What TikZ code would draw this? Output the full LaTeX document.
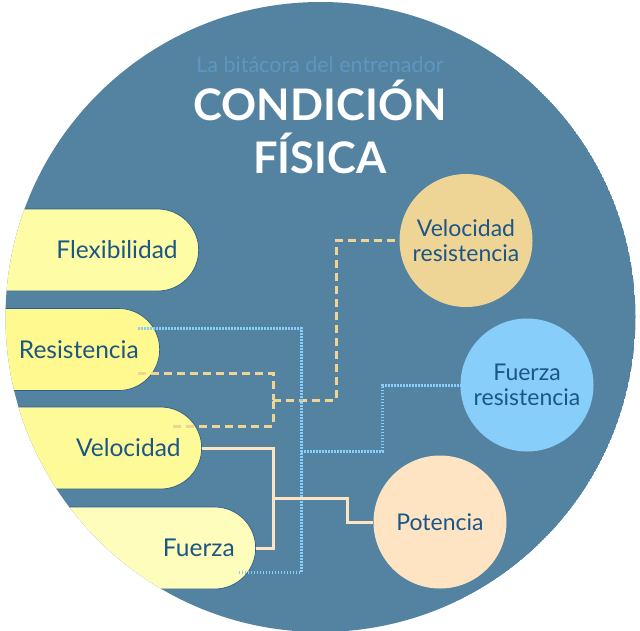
\documentclass[tikz,border=0pt]{standalone}
\usepackage{fontspec}
\setmainfont{Lato}
\usetikzlibrary{calc,positioning}
\definecolor{cBg}   {HTML}{5483A1}
\definecolor{cText} {HTML}{1B5686}
\definecolor{cEdge} {HTML}{2A5E8C}
\definecolor{cSub}  {HTML}{5E96C2}
\definecolor{cFlex} {HTML}{FFFCA6}
\definecolor{cRes}  {HTML}{FFF98F}
\definecolor{cVel}  {HTML}{FFFA98}
\definecolor{cFue}  {HTML}{FFFDBB}
\definecolor{cSand} {HTML}{EFD595}
\definecolor{cSky}  {HTML}{87CEFA}
\definecolor{cBisq} {HTML}{FFE4C4}
\tikzset{
  pill/.style ={draw=cEdge,line width=0.7pt,rounded corners=41pt,minimum height=82pt,
                text width=260pt,align=right,inner xsep=21pt,inner ysep=0pt,
                anchor=east,text=cText,font=\fontsize{24.5}{28}\selectfont},
  bub/.style  ={circle,minimum size=133pt,inner sep=0pt,align=center,text=cText,
                font=\fontsize{23}{25}\selectfont},
  lnk/.style  ={draw=cBisq,line width=3pt},
  dsh/.style  ={draw=cSand,line width=3pt,dash pattern=on 8pt off 5pt},
  dot/.style  ={draw=cSky,line width=3pt,dash pattern=on 1.5pt off 1.5pt},
}

\begin{document}
\begin{tikzpicture}[x=1pt,y=-1pt]
\useasboundingbox (0,0) rectangle (640,630);

% ---- disc and the four pills ------------------------------------------
\begin{scope}
\clip (320.5,317) circle (315);
\fill[cBg] (320.5,317) circle (315);
\node[pill,fill=cFlex] (flex)   at (199,250)   {Flexibilidad};
\node[pill,fill=cRes]  (resis)  at (160,349.5) {Resistencia};
\node[pill,fill=cVel]  (veloc)  at (202,448)   {Velocidad};
\node[pill,fill=cFue]  (fuerza) at (256,548)   {Fuerza};
\end{scope}

% ---- heading -----------------------------------------------------------
\node[anchor=base,text=cSub,font=\fontsize{21.5}{24}\selectfont] (sub) at (320,72)
  {La bitácora del entrenador};
\node[anchor=base,text=white,font=\bfseries\fontsize{43.5}{50}\selectfont] (head1) at (320,120)
  {CONDICIÓN};
\node[anchor=base,text=white,font=\bfseries\fontsize{43.5}{50}\selectfont] (head2) at (320,173)
  {FÍSICA};

% ---- combined qualities ------------------------------------------------
\node[bub,fill=cSand] (velres) at (466,240.5) {Velocidad\\resistencia};
\node[bub,fill=cSky]  (fueres) at (527,385)   {Fuerza\\resistencia};
\node[bub,fill=cBisq] (poten)  at (440,522)   {Potencia};

% ---- links -------------------------------------------------------------
% start points sit a little inside the pills, as in the layout
\coordinate (rsY) at ($(resis.east)+(-22,23.5)$);
\coordinate (vlY) at ($(veloc.east)+(-29,-22)$);
\coordinate (jY)  at (273,400);
\draw[dsh] (rsY) -| (jY);
\draw[dsh] (vlY) -| (jY);
\draw[dsh] (jY) -| ($(velres.west)+(-63,0)$) -- (velres.west);

\coordinate (rsB) at ($(resis.east)+(-22,-21.5)$);
\coordinate (fzB) at ($(fuerza.east)+(-19,24)$);
\coordinate (jB)  at (301,451);
\draw[dot] (rsB) -- (rsB -| jB) -- (fzB -| jB) -- (fzB);
\draw[dot] (jB) -| ($(fueres.west)+(-78,0)$) -- (fueres.west);

\coordinate (jC) at (273,498);
\draw[lnk] (veloc.east) -| (jC) |- (fuerza.east);
\draw[lnk] (jC) -| ($(poten.west)+(-26,0)$) -- (poten.west);
\end{tikzpicture}
\end{document}
